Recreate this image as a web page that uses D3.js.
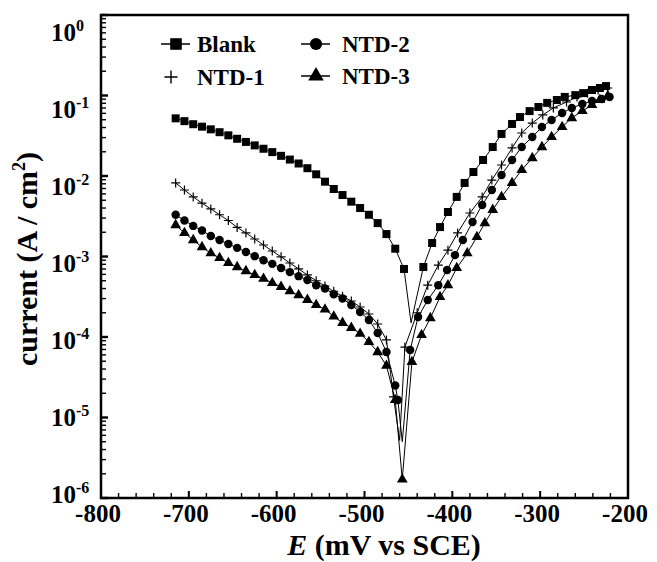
<!DOCTYPE html>
<html>
<head>
<meta charset="utf-8">
<script src="https://cdn.jsdelivr.net/npm/d3@7"></script>
<style>
  body { margin: 0; background: #fff; }
  svg { display: block; font-family: "Liberation Serif", "Times New Roman", serif; font-weight: bold; }
</style>
</head>
<body>
<div id="chart"></div>
<script>
// Potential (mV vs SCE) and current density (A/cm2)
const blankE = [-715,-705,-695,-685,-675,-665,-655,-645,-635,-625,-615,-605,-595,-585,-575,-565,-555,-545,-535,-525,-515,-505,-495,-485,-475,-465,-455,
  -433,-423,-414,-405,-395,-386,-376,-365,-354,-344,-332,-323,-312,-302,-292,-281,-272,-260,-251,-241,-232,-225];
const blankI = [0.052,0.048,0.044,0.041,0.038,0.035,0.032,0.029,0.0265,0.024,0.0218,0.0198,0.0178,0.016,0.0143,0.0125,0.0105,0.0085,0.0069,0.0058,0.0048,0.0040,0.0033,0.0026,0.0019,0.00125,0.0007,
  0.00074,0.00147,0.00232,0.00357,0.0055,0.0082,0.0112,0.0158,0.0229,0.0333,0.0443,0.054,0.064,0.072,0.081,0.088,0.096,0.101,0.107,0.117,0.124,0.131];
const blankCusp = [[-447, 0.00015]];

const ntd1E = [-715,-705,-695,-685,-675,-665,-655,-645,-635,-625,-615,-605,-595,-585,-575,-565,-555,-545,-535,-525,-515,-505,-495,-485,-475,-467,
  -454,-440,-428,-416,-405,-394,-380,-366,-355,-344,-332,-321,-309,-297,-285,-270,-258,-246,-234,-223];
const ntd1I = [0.0082,0.0067,0.0055,0.0046,0.0039,0.0033,0.0028,0.0023,0.00196,0.00165,0.00139,0.00117,0.00099,0.00083,0.0007,0.00059,0.0005,0.00043,0.00037,0.00032,0.00028,0.000236,0.000193,0.000145,0.000092,0.000018,
  0.000075,0.0002,0.00044,0.00078,0.0012,0.00196,0.00347,0.0055,0.0089,0.0137,0.0223,0.0342,0.0455,0.0573,0.070,0.083,0.096,0.107,0.117,0.124];
const ntd1Cusp = [[-460, 0.0000052]];

const ntd2E = [-715,-705,-695,-685,-675,-665,-655,-645,-635,-625,-615,-605,-595,-585,-575,-565,-555,-545,-535,-525,-515,-505,-495,-485,-475,-465,-462,
  -448,-439,-428,-416,-406,-397,-388,-377,-366,-355,-344,-332,-321,-309,-298,-287,-275,-264,-252,-241,-230,-221];
const ntd2I = [0.0033,0.0028,0.0024,0.0021,0.0018,0.0016,0.00143,0.00128,0.00114,0.00101,0.0009,0.00081,0.00072,0.00064,0.00057,0.00051,0.00044,0.0004,0.00034,0.0003,0.00025,0.000205,0.000163,0.000112,0.000065,0.000025,0.0000165,
  0.000069,0.000177,0.000288,0.00044,0.00068,0.00104,0.0016,0.00268,0.00436,0.0067,0.0103,0.0158,0.0229,0.0305,0.0406,0.0496,0.0606,0.070,0.0784,0.0855,0.0905,0.0958];
const ntd2Cusp = [[-457, 0.000005]];

const ntd3E = [-715,-705,-695,-685,-675,-665,-655,-645,-635,-625,-615,-605,-595,-585,-575,-565,-555,-545,-535,-525,-515,-505,-495,-485,-475,-465,-457,
  -446,-435,-425,-414,-405,-395,-383,-372,-363,-354,-344,-332,-321,-309,-298,-287,-275,-264,-252,-241,-232,-223];
const ntd3I = [0.00246,0.00196,0.0016,0.00131,0.0011,0.00096,0.00083,0.00074,0.00066,0.00059,0.00053,0.00047,0.00042,0.00037,0.00033,0.00029,0.00025,0.00022,0.00018,0.00015,0.00013,0.00011,0.000087,0.000065,0.000044,0.0000165,0.0000017,
  0.000049,0.000106,0.000172,0.000314,0.00044,0.00072,0.0011,0.00175,0.0026,0.0038,0.0055,0.0082,0.0119,0.0167,0.0229,0.0305,0.0406,0.0525,0.0642,0.0762,0.088,0.0986];

const xTicks = [-800,-700,-600,-500,-400,-300,-200];
const yExponents = [0,-1,-2,-3,-4,-5,-6];

const width = 657, height = 562;
const margin = {left: 101, top: 15, right: 29, bottom: 64};

const svg = d3.select("#chart").append("svg")
  .attr("width", width)
  .attr("height", height);

svg.append("rect").attr("width", width).attr("height", height).attr("fill", "#fff");

const x = d3.scaleLinear().domain([-800, -200]).range([margin.left, width - margin.right]);
const y = d3.scaleLog().domain([1e-6, 1]).range([height - margin.bottom, margin.top]);
// tick labels in the figure sit a little lower than their ticks
const yLab = d3.scaleLog().domain([1e-6, 1]).range([494, 32]);

// minor ticks
const xMinor = d3.range(-800, -199, 20);
const xAxis = svg.append("g").attr("transform", `translate(0,${y.range()[0]})`);
xAxis.selectAll("line")
  .data(xMinor)
  .enter().append("line")
  .attr("x1", d => x(d)).attr("x2", d => x(d))
  .attr("y1", 0)
  .attr("y2", d => xTicks.includes(d) ? -7 : -5)
  .attr("stroke", "#000")
  .attr("stroke-width", d => xTicks.includes(d) ? 2 : 1.4);

const yMinor = [];
yExponents.forEach(e => {
  if (e > -6) {
    for (let k = 1; k < 10; k++) yMinor.push(k * Math.pow(10, e - 1));
  }
});
yMinor.push(1);
const yAxis = svg.append("g").attr("transform", `translate(${x.range()[0]},0)`);
yAxis.selectAll("line")
  .data(yMinor)
  .enter().append("line")
  .attr("x1", 0)
  .attr("x2", d => Math.abs(Math.log10(d) - Math.round(Math.log10(d))) < 1e-9 ? 7 : 5)
  .attr("y1", d => y(d)).attr("y2", d => y(d))
  .attr("stroke", "#000")
  .attr("stroke-width", d => Math.abs(Math.log10(d) - Math.round(Math.log10(d))) < 1e-9 ? 2.4 : 1.4);

// frame
svg.append("rect")
  .attr("x", x.range()[0]).attr("y", y.range()[1])
  .attr("width", x.range()[1] - x.range()[0])
  .attr("height", y.range()[0] - y.range()[1])
  .attr("fill", "none")
  .attr("stroke", "#000")
  .attr("stroke-width", 2.5);

// x tick labels
svg.selectAll(".xlab")
  .data(xTicks)
  .enter().append("text")
  .attr("class", "xlab")
  .attr("x", d => x(d) - 3)
  .attr("y", 522)
  .attr("text-anchor", "middle")
  .style("font-size", "25px")
  .text(d => d);

// y tick labels 10^n
const ylab = svg.selectAll(".ylab")
  .data(yExponents)
  .enter().append("text")
  .attr("class", "ylab")
  .attr("x", 51)
  .attr("y", d => yLab(Math.pow(10, d)) + 8.5)
  .style("font-size", "25px");
ylab.append("tspan").text("10");
ylab.append("tspan")
  .attr("dy", -10)
  .style("font-size", "16px")
  .text(d => d === 0 ? "0" : "-" + Math.abs(d));

// axis titles
const xt = svg.append("text")
  .attr("x", 384).attr("y", 555)
  .attr("text-anchor", "middle")
  .style("font-size", "30px");
xt.append("tspan").style("font-style", "italic").text("E");
xt.append("tspan").text(" (mV vs SCE)");

const yt = svg.append("text")
  .attr("transform", "translate(37,259) rotate(-90)")
  .attr("text-anchor", "middle")
  .style("font-size", "30px");
yt.append("tspan").text("current (A / cm");
yt.append("tspan").attr("dy", -12).style("font-size", "18px").text("2");
yt.append("tspan").attr("dy", 12).text(")");

// series
const series = [
  {name: "Blank", E: blankE, I: blankI, cusp: blankCusp, shape: "square"},
  {name: "NTD-1", E: ntd1E, I: ntd1I, cusp: ntd1Cusp, shape: "plus"},
  {name: "NTD-2", E: ntd2E, I: ntd2I, cusp: ntd2Cusp, shape: "circle"},
  {name: "NTD-3", E: ntd3E, I: ntd3I, cusp: [], shape: "triangle"}
];

function markerPath(shape, scale) {
  if (shape === "square") return d3.symbol(d3.symbolSquare, 64 * scale * scale)();
  if (shape === "circle") return d3.symbol(d3.symbolCircle, 56 * scale * scale)();
  if (shape === "triangle") return d3.symbol(d3.symbolTriangle, 50 * scale * scale)();
  return "M" + (-4.5 * scale) + ",0H" + (4.5 * scale) + "M0," + (-4.5 * scale) + "V" + (4.5 * scale);
}

const line = d3.line().x(d => x(d[0])).y(d => y(d[1]));

series.forEach(s => {
  const pts = s.E.map((e, i) => [e, s.I[i]]);
  const linePts = pts.concat(s.cusp).sort((a, b) => a[0] - b[0]);

  svg.append("path")
    .datum(linePts)
    .attr("d", line)
    .attr("fill", "none")
    .attr("stroke", "#000")
    .attr("stroke-width", 1);

  svg.append("g").selectAll("path")
    .data(pts)
    .enter().append("path")
    .attr("transform", d => `translate(${x(d[0])},${y(d[1])})`)
    .attr("d", markerPath(s.shape, 1))
    .attr("fill", s.shape === "plus" ? "none" : "#000")
    .attr("stroke", "#000")
    .attr("stroke-width", s.shape === "plus" ? 1.2 : 0);
});

// legend
const legendPos = [
  {lx: 176, ly: 44, tx: 197, line: true},
  {lx: 171, ly: 77, tx: 197, line: false},
  {lx: 316, ly: 44, tx: 342, line: true},
  {lx: 316, ly: 76, tx: 342, line: true}
];
series.forEach((s, i) => {
  const p = legendPos[i];
  const g = svg.append("g");
  if (p.line) {
    g.append("line")
      .attr("x1", p.lx - 15).attr("x2", p.lx + 14)
      .attr("y1", p.ly).attr("y2", p.ly)
      .attr("stroke", "#000").attr("stroke-width", 1.5);
  }
  g.append("path")
    .attr("transform", `translate(${p.lx},${p.ly})`)
    .attr("d", markerPath(s.shape, 1.45))
    .attr("fill", s.shape === "plus" ? "none" : "#000")
    .attr("stroke", "#000")
    .attr("stroke-width", s.shape === "plus" ? 1.4 : 0);
  g.append("text")
    .attr("x", p.tx).attr("y", p.ly + 8)
    .style("font-size", "23px")
    .text(s.name);
});
</script>
</body>
</html>
